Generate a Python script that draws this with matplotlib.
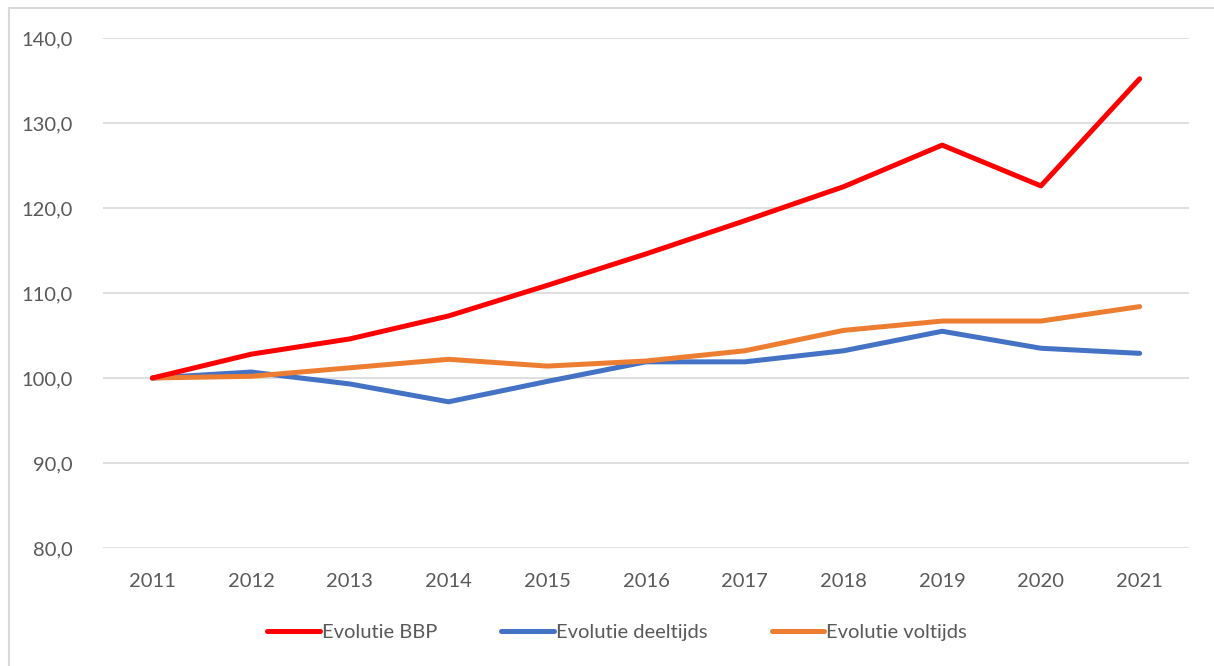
import matplotlib
matplotlib.use("Agg")
import matplotlib.pyplot as plt
from matplotlib.patches import Rectangle
from matplotlib.ticker import FuncFormatter

plt.rcParams['font.family'] = ['Lato', 'DejaVu Sans']

# index values (2011 = 100)
years = [2011, 2012, 2013, 2014, 2015, 2016, 2017, 2018, 2019, 2020, 2021]
bbp = [100.0, 102.8, 104.6, 107.3, 110.9, 114.6, 118.5, 122.5, 127.4, 122.6, 135.2]
deeltijds = [100.0, 100.7, 99.3, 97.2, 99.6, 101.9, 101.9, 103.2, 105.5, 103.5, 102.9]
voltijds = [100.0, 100.2, 101.2, 102.2, 101.4, 102.0, 103.2, 105.6, 106.7, 106.7, 108.4]

W, H = 1214, 666
fig = plt.figure(figsize=(W / 100, H / 100), dpi=100)
ax = fig.add_axes([103 / W, 1 - 548 / H, (1189 - 103) / W, (548 - 38) / H])

# chart frame
fig.patches.append(Rectangle((9 / W, -0.1), 1.2, 1 - 8 / H + 0.1, transform=fig.transFigure,
                             fill=False, edgecolor='#d9d9d9', linewidth=1.5))

lw = 3.6
ax.plot(years, bbp, color='#ff0000', lw=lw, solid_capstyle='round', solid_joinstyle='round', label='Evolutie BBP', zorder=4)
ax.plot(years, deeltijds, color='#4472c4', lw=lw, solid_capstyle='round', solid_joinstyle='round', label='Evolutie deeltijds', zorder=2)
ax.plot(years, voltijds, color='#ed7d31', lw=lw, solid_capstyle='round', solid_joinstyle='round', label='Evolutie voltijds', zorder=3)

ax.set_xlim(2010.5, 2021.5)
ax.set_ylim(80, 140)
ax.set_yticks(range(80, 141, 10))
ax.set_xticks(years)
ax.yaxis.set_major_formatter(FuncFormatter(lambda v, p: f"{v:.1f}".replace('.', ',')))
ax.grid(axis='y', color='#d9d9d9', linewidth=1.2)
ax.set_axisbelow(True)
for s in ax.spines.values():
    s.set_visible(False)
ax.tick_params(axis='both', length=0, labelsize=14.5, labelcolor='#595959')
ax.tick_params(axis='y', pad=22)
ax.tick_params(axis='x', pad=18)

leg = fig.legend(loc='center', bbox_to_anchor=(617 / W, 1 - 632 / H), ncol=3, frameon=False,
                 fontsize=14.5, handlelength=2.6, handletextpad=0.1, columnspacing=3.2)
for t in leg.get_texts():
    t.set_color('#595959')

fig.savefig('out.png', dpi=100)
